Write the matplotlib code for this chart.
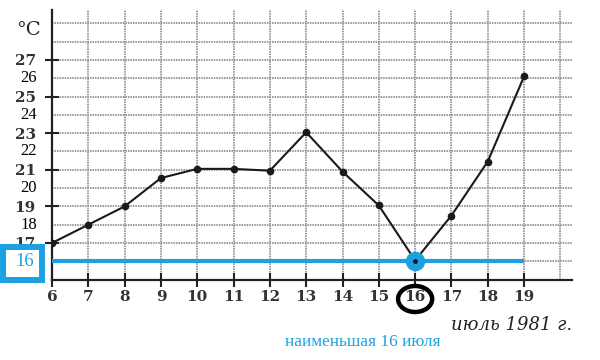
import matplotlib.pyplot as plt
import matplotlib.patches as patches
import matplotlib.transforms as mtransforms

# Temperature in July 1981
days = [6, 7, 8, 9, 10, 11, 12, 13, 14, 15, 16, 17, 18, 19]
temps = [17, 18, 19, 20.55, 21.05, 21.05, 20.95, 23.05, 20.9, 19.05, 16.05, 18.5, 21.45, 26.1]

major_y = [17, 19, 21, 23, 25, 27]
extra_y = [18, 20, 22, 24, 26]
grid_y = list(range(16, 30))
grid_x = list(range(7, 21))

min_day = 16
min_temp = 16
blue = '#1ba1e2'

fig = plt.figure(figsize=(6, 3.6), dpi=100)
ax = fig.add_axes([52 / 600, 80.4 / 360, 520 / 600, 269.6 / 360])
ax.set_xlim(6, 20.32)
ax.set_ylim(15, 29.73)

# dotted grid
ax.hlines(grid_y, 6, 20.32, colors='#9a9a9a', linestyles=(0, (0.8, 0.5)), lw=1.4, zorder=1)
ax.vlines(grid_x, 15, 29.73, colors='#9a9a9a', linestyles=(0, (0.8, 0.5)), lw=1.4, zorder=1)

for s in ['top', 'right']:
    ax.spines[s].set_visible(False)
for s in ['left', 'bottom']:
    ax.spines[s].set_linewidth(1.6)
    ax.spines[s].set_color('#222222')

ax.set_xticks(days)
ax.set_xticklabels([str(d) for d in days], fontfamily='DejaVu Serif',
                   fontweight='bold', fontsize=11, color='#333333')
ax.set_yticks(major_y)
ax.set_yticklabels([str(v) for v in major_y], fontfamily='DejaVu Serif',
                   fontweight='bold', fontsize=11, color='#333333')
ax.tick_params(axis='both', direction='inout', length=9.5, width=1.5, color='#222222')
ax.tick_params(axis='x', pad=3)
ax.tick_params(axis='y', pad=7)

# extra (hand-added) labels
for v in extra_y:
    ax.text(5.59, v, str(v), ha='right', va='center', fontfamily='Liberation Serif',
            fontsize=12, color='black', clip_on=False)

# temperature line
ax.plot(days, temps, color='#1a1a1a', lw=1.5, marker='o', markersize=4.5, zorder=4)

# blue minimum line and marker
ax.hlines(min_temp, days[0], days[-1], colors=blue, lw=3, zorder=3)
ax.plot([min_day], [min_temp], 'o', color=blue, markersize=13, zorder=5)
ax.plot([min_day], [min_temp], 'o', color='#1a1a1a', markersize=2.5, zorder=6)

# blue box with 16 on the left
fig.patches.append(patches.Rectangle((3 / 600, 80 / 360), 39 / 600, 33 / 360,
                                     transform=fig.transFigure, fill=True, facecolor='white',
                                     edgecolor=blue, lw=4.3, zorder=10))
fig.text(25 / 600, (360 - 262) / 360, str(min_temp), ha='center', va='center',
         fontfamily='Liberation Serif', fontsize=13.5, color=blue, zorder=11)

# black ellipse around day 16
trans = mtransforms.blended_transform_factory(ax.transData, fig.transFigure)
ax.add_patch(patches.Ellipse((min_day, (360 - 299) / 360), 0.94, 26 / 360,
                             transform=trans, fill=False, edgecolor='black', lw=3.2,
                             clip_on=False, zorder=10))

fig.text(28 / 600, (360 - 30) / 360, '°C', ha='center', va='center',
         fontfamily='DejaVu Serif', fontsize=14, color='#222222')
fig.text(572 / 600, (360 - 325) / 360, 'июль 1981 г.', ha='right', va='center',
         fontfamily='DejaVu Serif', fontstyle='italic', fontsize=13, color='#222222')
fig.text(363 / 600, (360 - 342) / 360, 'наименьшая 16 июля', ha='center', va='center',
         fontfamily='Liberation Serif', fontsize=12.4, color=blue)

fig.savefig('out.png', dpi=100)
